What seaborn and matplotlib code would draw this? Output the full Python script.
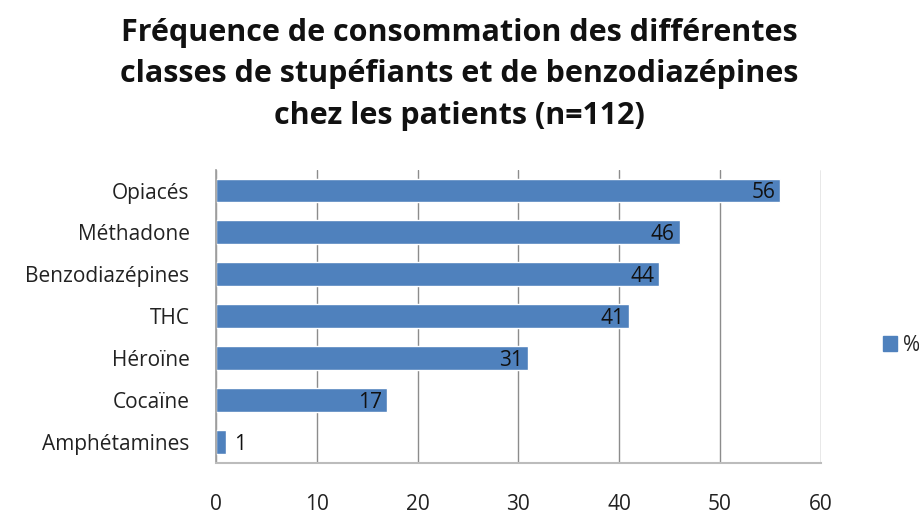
import matplotlib
matplotlib.use("Agg")
import matplotlib.pyplot as plt
import seaborn as sns
import pandas as pd
from matplotlib.patches import Patch

categories = ["Opiacés", "Méthadone", "Benzodiazépines", "THC", "Héroïne", "Cocaïne", "Amphétamines"]
values = [56, 46, 44, 41, 31, 17, 1]
xticks = [0, 10, 20, 30, 40, 50, 60]

sns.set_theme(style="white")
plt.rcParams['font.family'] = ['Open Sans', 'DejaVu Sans']

df = pd.DataFrame({"cat": categories, "val": values})

fig = plt.figure(figsize=(9.19, 5.13), dpi=100)
ax = fig.add_axes([0.235, 0.0975, 0.658, 0.572])
color = "#4F81BD"
sns.barplot(data=df, y="cat", x="val", orient="h", color=color, width=0.57,
            saturation=1, ax=ax, order=categories)

fs = 15
ax.set_xlim(0, 60)
ax.set_xticks(xticks)
ax.set_xticklabels([str(t) for t in xticks], fontsize=fs, color="#222222")
ax.tick_params(axis="x", pad=22, length=0)
ax.tick_params(axis="y", pad=19, length=0, labelsize=fs, labelcolor="#222222")
ax.set_xlabel("")
ax.set_ylabel("")
ax.xaxis.grid(True, color="#8c8c8c", linewidth=1)
ax.set_axisbelow(True)
for s in ["top", "right"]:
    ax.spines[s].set_visible(False)
ax.spines["left"].set_color("#a0a0a0")
ax.spines["bottom"].set_color("#bcbcbc")
ax.spines["bottom"].set_linewidth(1.5)

for i, v in enumerate(values):
    if v >= 5:
        ax.text(v - 0.5, i + 0.05, str(v), ha="right", va="center", fontsize=fs, color="#111111")
    else:
        ax.text(v + 0.8, i + 0.05, str(v), ha="left", va="center", fontsize=fs, color="#111111")

fig.text(0.50, 0.855, "Fréquence de consommation des différentes\nclasses de stupéfiants et de benzodiazépines\nchez les patients (n=112)",
         ha="center", va="center", fontsize=22, fontweight="bold", color="#111111", linespacing=1.5)

handles = [Patch(facecolor=color, edgecolor=color, label="%")]
fig.legend(handles=handles, loc="center left", bbox_to_anchor=(0.961, 0.327), frameon=False,
           fontsize=fs, handlelength=0.65, handleheight=0.7, handletextpad=0.3, borderaxespad=0, borderpad=0)

fig.savefig("out.png", dpi=100)
